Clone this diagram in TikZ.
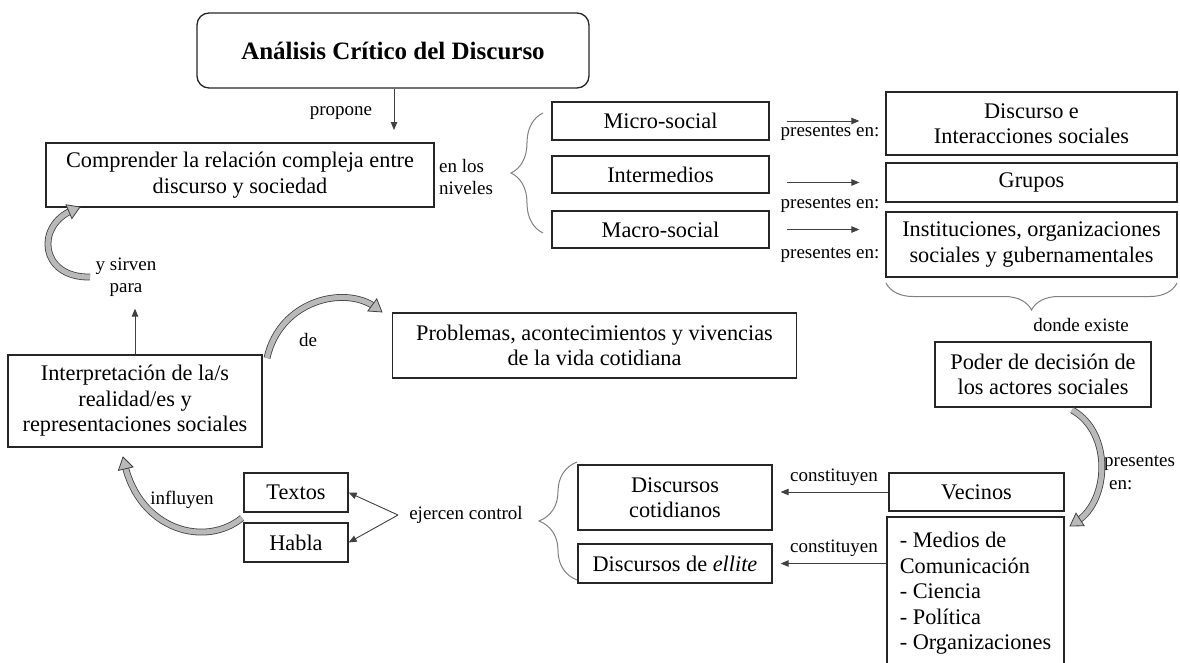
\documentclass[tikz,border=0pt]{standalone}
\usepackage{fontspec}
\setmainfont{Liberation Serif}
\usetikzlibrary{arrows.meta,decorations.pathreplacing,calc}

\newcommand\boxfont{\fontsize{22.3}{25.5}\selectfont}
\newcommand\lblfont{\fontsize{19}{22.5}\selectfont}
\newcommand\ttlfont{\fontsize{25}{28}\selectfont\bfseries}

% curved block arrow: start, control 1, control 2, tip
\newcommand\fatarrow[4]{%
  \draw[fatbody] (#1) .. controls (#2) and (#3) .. (#4);
  \coordinate (fa-tip) at (#4);
  \coordinate (fa-base) at ($(#4)!12pt!(#3)$);
  \filldraw[fathead] (fa-tip) -- ($(fa-base)!7.5pt!90:(fa-tip)$)
    -- ($(fa-base)!7.5pt!-90:(fa-tip)$) -- cycle;
}

\begin{document}
\begin{tikzpicture}[x=1pt,y=-1pt,
  box/.style={draw=black!85, line width=1.3pt, align=center, font=\boxfont, inner sep=2pt},
  lbl/.style={font=\lblfont, inner sep=0pt, align=center},
  arr/.style={draw=black!75, line width=0.9pt, -{Triangle[length=8pt,width=6.5pt]}},
  brc/.style={draw=black!50, line width=1pt, decorate, decoration={brace, amplitude=#1}},
  fatbody/.style={draw=black!75, line width=0.8pt, double=gray!55, double distance=5.2pt,
    shorten >=8pt},
  fathead/.style={draw=black!75, fill=gray!55, line width=0.8pt, line join=miter}
]
\useasboundingbox (0,0) rectangle (1180,662);
\clip (0,0) rectangle (1180,662);

% boxes
\node[box, rounded corners=12pt, minimum width=392pt, minimum height=75pt, font=\ttlfont]
  (title) at (393,50.5) {Análisis Crítico del Discurso};
\node[box, minimum width=388pt, minimum height=64pt] (comp) at (240,175)
  {Comprender la relación compleja entre\\ discurso y sociedad};
\node[box, minimum width=217pt, minimum height=38pt] (micro) at (660.5,121) {Micro-social};
\node[box, minimum width=217pt, minimum height=37pt] (inter) at (660.5,174.5) {Intermedios};
\node[box, minimum width=217pt, minimum height=37pt] (macro) at (660.5,229.5) {Macro-social};
\node[box, minimum width=291pt, minimum height=63pt] (disc) at (1031.5,123.5)
  {Discurso e\\ Interacciones sociales};
\node[box, minimum width=291pt, minimum height=39pt] (grupos) at (1031.5,182.5) {Grupos};
\node[box, minimum width=291pt, minimum height=65pt] (inst) at (1031.5,244.5)
  {Instituciones, organizaciones\\ sociales y gubernamentales};
\node[box, minimum width=404pt, minimum height=65pt] (prob) at (594.5,345.5)
  {Problemas, acontecimientos y vivencias\\ de la vida cotidiana};
\node[box, minimum width=254pt, minimum height=92pt] (interp) at (135,401)
  {Interpretación de la/s\\ realidad/es y\\ representaciones sociales};
\node[box, minimum width=216pt, minimum height=65pt] (poder) at (1043,374.5)
  {Poder de decisión de\\ los actores sociales};
\node[box, minimum width=175pt, minimum height=38pt] (vecinos) at (976.5,492) {Vecinos};
\node[box, minimum width=177pt, minimum height=153pt, align=left] (medios) at (975.5,593.5)
  {- Medios de\\ Comunicación\\ - Ciencia\\ - Política\\ - Organizaciones};
\node[box, minimum width=194pt, minimum height=65pt] (cotid) at (675,497.5)
  {Discursos\\ cotidianos};
\node[box, minimum width=194pt, minimum height=39pt] (ellite) at (675,563.5)
  {Discursos de \textit{ellite}};
\node[box, minimum width=104pt, minimum height=39pt] (textos) at (296,492.5) {Textos};
\node[box, minimum width=104pt, minimum height=39pt] (habla) at (296,542.5) {Habla};

% labels
\node[lbl] (propone) at (341,113) {propone};
\node[lbl, anchor=west, align=left] (niveles) at (439,177) {en los\\ niveles};
\node[lbl] (pres1) at (830,133) {presentes en:};
\node[lbl] (pres2) at (830,205) {presentes en:};
\node[lbl] (pres3) at (830,255) {presentes en:};
\node[lbl] (donde) at (1081,325) {donde existe};
\node[lbl] (sirven) at (126,277) {y sirven\\ para};
\node[lbl] (de) at (308,340) {de};
\node[lbl, anchor=west, align=left] (pres4) at (1104,473) {presentes\\ \hspace{5pt}en:};
\node[lbl] (const1) at (834,477) {constituyen};
\node[lbl] (const2) at (834,548) {constituyen};
\node[lbl] (ejer) at (466,515) {ejercen control};
\node[lbl] (influ) at (182,500) {influyen};

% straight connectors
\draw[arr, shorten >=13pt] (title.south -| 394,0) -- (394,143);
\draw[arr, shorten <=17pt, shorten >=26pt] (micro.east) -- (micro.east -| disc.west);
\draw[arr, shorten <=17pt, shorten >=26pt] (inter.east |- grupos.west) -- (grupos.west);
\draw[arr, shorten <=17pt, shorten >=26pt] (macro.east) -- (macro.east -| inst.west);
\draw[arr, shorten >=101pt] (interp.north) -- (interp.north |- comp.south);
\draw[arr, shorten >=8pt] (vecinos.west) -- (vecinos.west -| cotid.east);
\draw[arr, shorten >=8pt] (medios.west |- ellite.east) -- (ellite.east);
\coordinate (ec) at (398,515);
\draw[arr] (ec) -- (textos.east);
\draw[arr] (ec) -- (habla.east);

% braces
\draw[brc=32pt] (543,233) -- (543,113);
\draw[brc=27pt] (1177,283) -- (886,283);
\draw[brc=38pt] (577,580) -- (577,462);

% curved block arrows
\fatarrow{90,277}{40,278}{35,226}{80,207}
\fatarrow{267,358}{280,300}{345,285}{382,312}
\fatarrow{1072,410}{1112,432}{1110,500}{1070,526}
\fatarrow{242,518}{205,548}{140,530}{123,457}
\end{tikzpicture}
\end{document}
